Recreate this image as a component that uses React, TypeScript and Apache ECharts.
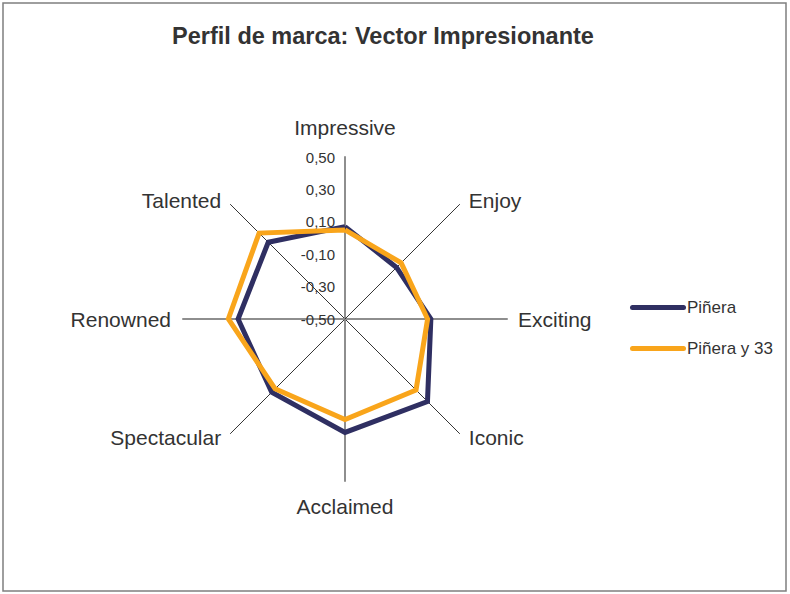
import React, { useEffect, useRef } from "react";
import * as echarts from "echarts";

const titleText = "Perfil de marca: Vector Impresionante";
// clockwise from the top, as in the reference
const categories = ["Impressive", "Enjoy", "Exciting", "Iconic", "Acclaimed", "Spectacular", "Renowned", "Talented"];
const seriesNames = ["Piñera", "Piñera y 33"];
const pinera = [0.07, -0.05, 0.03, 0.22, 0.2, 0.14, 0.16, 0.17];
const pineraY33 = [0.05, -0.01, 0.01, 0.12, 0.12, 0.11, 0.22, 0.25];
const axisMin = -0.5;
const axisMax = 0.5;
const splitCount = 5;
const nameGaps = [19, 6, 11, 6, 15, 6, 12, 6];

const colors = ["#2f2f62", "#f9a51b"];
const FONT = "'Liberation Sans', Arial, sans-serif";

export default function App() {
  const ref = useRef<HTMLDivElement>(null);
  useEffect(() => {
    if (!ref.current) return;
    const chart = echarts.init(ref.current, undefined, { renderer: "svg" });
    // ECharts radar lays indicators out counter-clockwise: reorder
    const n = categories.length;
    const order = [0];
    for (let i = n - 1; i >= 1; i--) order.push(i);
    const labelStyle = {
      fontSize: 15,
      color: "#333",
      fontFamily: FONT,
      margin: 10,
      formatter: (v: number) => v.toFixed(2).replace(".", ","),
    };
    const indicator = order.map((i) => {
      const cardinal = i % 2 === 0;
      const ind: any = {
        name: categories[i],
        min: axisMin,
        max: axisMax,
        nameGap: nameGaps[i],
        axisLine: {
          show: true,
          lineStyle: cardinal ? { color: "#8e8e8e", width: 2 } : { color: "#1e1e1e", width: 0.9 },
        },
      };
      if (!cardinal) {
        const rightSide = i < n / 2;
        ind.nameTextStyle = { padding: rightSide ? [0, 0, 0, 5] : [0, 5, 0, 0] };
      }
      if (i === 0) {
        ind.axisLabel = { show: true, ...labelStyle };
      }
      return ind;
    });
    const reorder = (arr: number[]) => order.map((i) => arr[i]);
    chart.setOption({
      animation: false,
      backgroundColor: "#ffffff",
      title: {
        text: titleText,
        left: 378,
        top: 19,
        textAlign: "center",
        textStyle: { fontSize: 23.5, fontWeight: "bold", color: "#333", fontFamily: FONT },
      },
      legend: {
        orient: "vertical",
        left: 625,
        top: 294,
        itemWidth: 56,
        itemHeight: 5,
        itemGap: 24,
        icon: "path://M2.5,0 L53.5,0 A2.5,2.5 0 0 1 53.5,5 L2.5,5 A2.5,2.5 0 0 1 2.5,0 Z",
        textStyle: { fontSize: 17, color: "#333", fontFamily: FONT, padding: [0, 0, 0, -4] },
        data: seriesNames,
      },
      graphic: [
        {
          type: "rect",
          shape: { x: 3, y: 3, width: 783, height: 588 },
          style: { fill: "none", stroke: "#7f7f7f", lineWidth: 1.5 },
          silent: true,
        },
      ],
      radar: {
        center: [345, 319],
        radius: 162,
        startAngle: 90,
        splitNumber: splitCount,
        shape: "polygon",
        splitLine: { show: false },
        splitArea: { show: false },
        axisTick: { show: false },
        axisLabel: { show: false, ...labelStyle },
        axisName: { color: "#333", fontSize: 21, fontFamily: FONT },
        indicator,
      },
      series: [
        {
          type: "radar",
          symbol: "none",
          data: [
            {
              name: seriesNames[0],
              value: reorder(pinera),
              lineStyle: { color: colors[0], width: 5, join: "miter" },
              itemStyle: { color: colors[0] },
            },
            {
              name: seriesNames[1],
              value: reorder(pineraY33),
              lineStyle: { color: colors[1], width: 5, join: "miter" },
              itemStyle: { color: colors[1] },
            },
          ],
        },
      ],
    });
    return () => chart.dispose();
  }, []);
  return (
    <div
      ref={ref}
      style={{ position: "fixed", left: 0, top: 0, width: 790, height: 594, background: "#fff" }}
    />
  );
}
